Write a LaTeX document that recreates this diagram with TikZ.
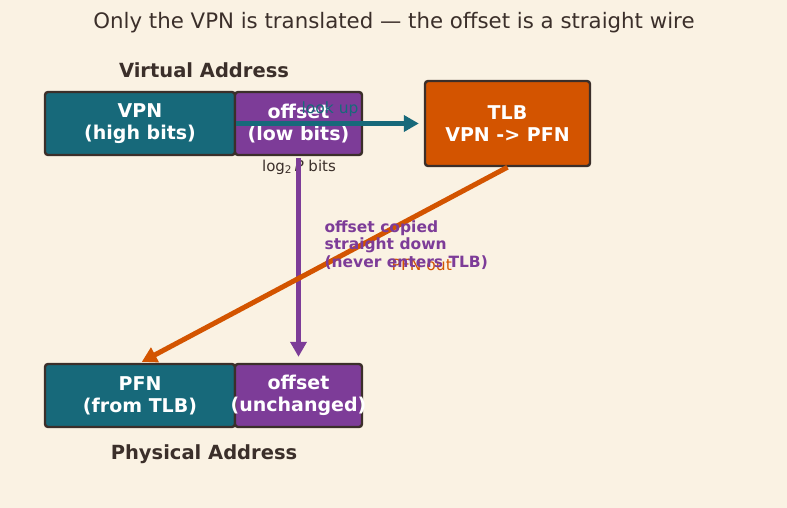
\documentclass[tikz,border=0pt]{standalone}
\usepackage{fontspec}
\setmainfont{DejaVu Sans}
\usepackage{xcolor}
\usetikzlibrary{arrows.meta, positioning}

\definecolor{bgcream}{HTML}{FAF2E3}
\definecolor{inkbrown}{HTML}{3B2F2A}
\definecolor{vpnteal}{HTML}{17697A}
\definecolor{offpurple}{HTML}{7D3C98}
\definecolor{tlborange}{HTML}{D35400}

\begin{document}
\begin{tikzpicture}[x=1pt, y=-1pt, >={Triangle[length=15pt, width=16pt]}]
	\tikzstyle{field} = [draw=inkbrown, line width=2.4pt, rounded corners=3pt, text=white, align=center, minimum height=63pt, font=\bfseries\fontsize{19}{22}\selectfont]
	\tikzstyle{caption} = [text=inkbrown, font=\bfseries\fontsize{19.5}{22}\selectfont]
	\tikzstyle{wire} = [line width=5pt]
	\tikzstyle{note} = [font=\fontsize{15.5}{18}\selectfont]

	% background and page size
	\fill[bgcream] (0, 0) rectangle (787, 508);
	\useasboundingbox (0, 0) rectangle (787, 508);

	\node[text=inkbrown, font=\fontsize{21.3}{25}\selectfont] at (394, 23) (title) {Only the VPN is translated --- the offset is a straight wire};

	% virtual address
	\node[caption] at (204, 70) (vcap) {Virtual Address};
	\node[field, fill=vpnteal, minimum width=190pt] at (140, 123.5) (vpn) {VPN\\(high bits)};
	\node[field, fill=offpurple, minimum width=127pt] at (298.5, 123.5) (voff) {offset\\(low bits)};
	\node[text=inkbrown, font=\fontsize{15}{18}\selectfont] at (299, 167) (bits) {log\textsubscript{2}\,\textit{P} bits};

	% the TLB
	\node[field, fill=tlborange, minimum width=165pt, minimum height=85pt] at (507.5, 123.5) (tlb) {TLB\\VPN -> PFN};

	% physical address
	\node[field, fill=vpnteal, minimum width=190pt] at (140, 395.5) (pfn) {PFN\\(from TLB)};
	\node[field, fill=offpurple, minimum width=127pt] at (298.5, 395.5) (poff) {offset\\\makebox[0pt]{(unchanged)}};
	\node[caption] at (204, 454) (pcap) {Physical Address};

	\path[->]
	(vpn.east) edge[draw=vpnteal, wire, shorten >=5pt] node[above, note, text=vpnteal, yshift=1pt] {look up} (tlb.west)
	(voff.south) edge[draw=offpurple, wire, shorten <=2pt, shorten >=6pt] (poff.north)
	(tlb.south) edge[draw=tlborange, wire, shorten >=2pt] node[note, text=tlborange, xshift=98pt] {PFN out} (pfn.north);

	\node[anchor=west, align=left, text=offpurple, font=\bfseries\fontsize{15.5}{17.5}\selectfont] at (321, 245) (copynote) {offset copied\\straight down\\(never enters TLB)};
\end{tikzpicture}
\end{document}
